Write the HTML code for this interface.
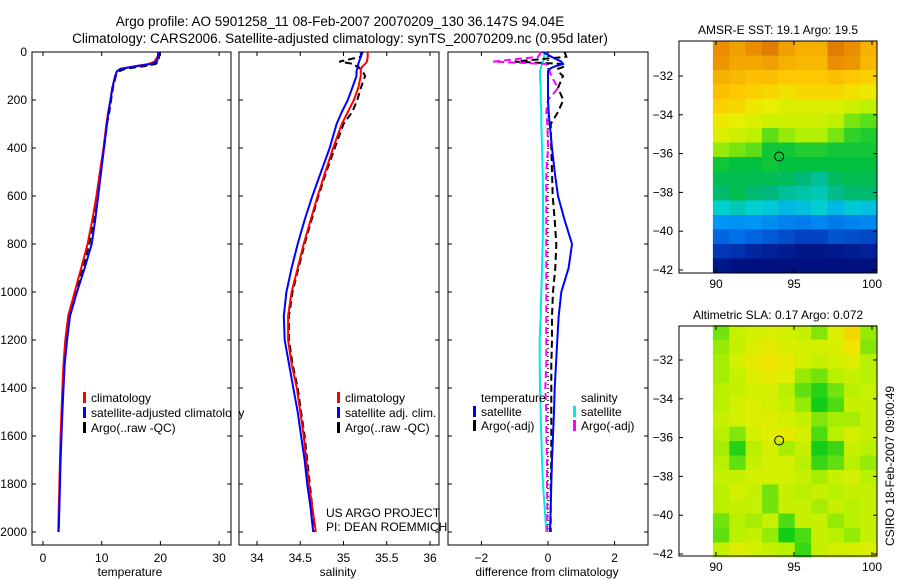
<!DOCTYPE html>
<html><head><meta charset="utf-8"><style>
html,body{margin:0;padding:0;background:#fff;}
svg{display:block;font-family:"Liberation Sans",sans-serif;}
</style></head><body>
<svg id="fig" width="900" height="580" viewBox="0 0 900 580">
<rect width="900" height="580" fill="#fff"/>
<text x="340" y="26" font-size="13.5" text-anchor="middle">Argo profile: AO 5901258_11 08-Feb-2007 20070209_130 36.147S 94.04E</text>
<text x="340" y="43" font-size="13.5" text-anchor="middle">Climatology: CARS2006. Satellite-adjusted climatology: synTS_20070209.nc (0.95d later)</text>
<g id="plots"></g>
</svg>
<script>
// ---- profile data ----
const depths = [0,20,40,50,60,70,80,100,150,200,250,300,400,500,600,700,800,900,1000,1100,1200,1300,1400,1500,1600,1700,1800,1900,2000];
const tempClim = [19.7,19.5,19.0,18.0,15.5,13.2,12.6,12.3,11.8,11.5,11.1,10.8,10.3,9.7,9.1,8.4,7.6,6.5,5.4,4.3,3.8,3.5,3.3,3.15,3.0,2.9,2.8,2.7,2.6];
const tempSat = [19.6,19.6,19.4,18.4,15.7,13.2,12.6,12.3,11.8,11.5,11.15,10.9,10.4,9.9,9.4,8.9,8.3,7.1,5.8,4.6,4.1,3.7,3.5,3.3,3.15,3.0,2.9,2.8,2.65];
const tempArgo = [19.8,19.8,19.6,19.2,17.0,14.0,13.0,12.4,11.9,11.6,11.3,10.9,10.4,9.8,9.2,8.6,7.9,6.8,5.6,4.4,3.9,3.6,3.4,3.2,3.05,2.95,2.85,2.75,2.65];
const salClim = [35.28,35.28,35.27,35.25,35.22,35.2,35.2,35.2,35.17,35.12,35.05,34.98,34.88,34.79,34.7,34.62,34.54,34.47,34.4,34.36,34.36,34.4,34.46,34.5,34.54,34.57,34.6,34.64,34.68];
const salSat = [35.2,35.2,35.18,35.17,35.17,35.16,35.15,35.15,35.1,35.05,34.98,34.92,34.84,34.74,34.64,34.55,34.47,34.4,34.34,34.31,34.32,34.37,34.42,34.47,34.51,34.55,34.58,34.62,34.65];
const salArgo = [35.22,35.2,34.95,35.12,35.15,35.2,35.22,35.25,35.2,35.16,35.1,35.0,34.9,34.8,34.71,34.63,34.55,34.48,34.41,34.37,34.37,34.41,34.47,34.51,34.55,34.58,34.61,34.64,34.67];
const tDiffSat = [-0.15,0.1,0.4,0.45,0.2,0.05,0,0,0,0,0.02,0.05,0.12,0.2,0.3,0.5,0.72,0.62,0.4,0.32,0.28,0.24,0.2,0.18,0.15,0.12,0.1,0.08,0.06];
const tDiffArgo = [0.5,0.55,-1.0,0.5,0.5,0.3,0.3,0.45,0.3,0.46,0.3,0.08,0.1,0.12,0.14,0.2,0.25,0.22,0.15,0.12,0.12,0.1,0.1,0.1,0.1,0.1,0.08,0.08,0.08];
const sDiffSat = [-0.1,-0.12,-0.15,-0.18,-0.2,-0.22,-0.24,-0.24,-0.22,-0.22,-0.2,-0.2,-0.18,-0.16,-0.15,-0.15,-0.16,-0.18,-0.2,-0.22,-0.25,-0.25,-0.24,-0.22,-0.2,-0.18,-0.15,-0.1,-0.05];
const sDiffArgo = [-0.2,-0.3,-1.65,-0.05,0.0,0.02,0.05,0.1,0.3,0.0,-0.05,-0.02,0.0,-0.05,-0.05,-0.05,-0.05,-0.05,-0.05,-0.05,-0.05,-0.05,-0.08,-0.05,-0.05,-0.03,-0.03,-0.02,-0.02];
const depthTicks = [0,200,400,600,800,1000,1200,1400,1600,1800,2000];
const tempTicks = [0,10,20,30];
const salTicks = [34,34.5,35,35.5,36];
const diffTicks = [-2,0,2];
// ---- map data (10 lon cols x 16 lat rows, top to bottom) ----
const sstGrid = [
[21.0,20.8,21.0,21.2,20.8,20.6,20.6,21.2,21.0,20.6],
[20.9,20.7,20.7,20.8,20.6,20.5,20.5,21.0,20.9,20.5],
[20.6,20.5,20.4,20.4,20.3,20.3,20.3,20.4,20.3,20.2],
[20.4,20.3,20.2,20.1,20.0,20.1,20.1,20.1,20.0,19.9],
[20.2,20.1,19.9,19.8,19.7,19.7,19.7,19.7,19.6,19.5],
[19.9,19.8,19.7,19.6,19.6,19.6,19.6,19.5,19.2,19.1],
[19.7,19.6,19.5,19.1,19.3,19.4,19.4,19.2,18.9,18.8],
[19.3,19.2,19.1,18.7,18.7,18.8,18.8,18.7,18.7,18.7],
[18.7,18.6,18.6,18.7,18.6,18.6,18.6,18.6,18.6,18.6],
[18.5,18.5,18.5,18.5,18.4,18.2,18.0,18.4,18.5,18.5],
[18.3,18.5,18.3,18.2,18.0,17.9,17.8,18.1,18.3,18.3],
[17.6,17.8,17.6,17.5,17.3,17.4,17.6,17.3,17.5,17.4],
[16.8,16.7,16.8,16.6,16.4,16.3,16.5,16.2,16.4,16.5],
[15.8,16.0,15.8,15.6,15.4,15.2,15.2,15.5,15.4,15.3],
[15.0,14.8,14.5,14.3,14.2,14.0,14.0,14.1,14.2,14.3],
[14.0,13.8,13.7,13.6,13.6,13.6,13.6,13.6,13.6,13.6]];
const slaGrid = [
[0.12,0.22,0.24,0.25,0.24,0.22,0.14,0.26,0.32,0.16],
[0.16,0.22,0.26,0.28,0.25,0.24,0.24,0.25,0.30,0.14],
[0.18,0.24,0.28,0.30,0.28,0.24,0.22,0.24,0.26,0.20],
[0.18,0.22,0.26,0.28,0.26,0.16,0.12,0.20,0.22,0.20],
[0.20,0.22,0.24,0.24,0.20,0.10,0.04,0.12,0.20,0.22],
[0.20,0.24,0.26,0.24,0.22,0.16,0.02,0.08,0.22,0.22],
[0.22,0.24,0.26,0.26,0.24,0.22,0.14,0.18,0.18,0.22],
[0.20,0.14,0.24,0.26,0.28,0.24,0.08,0.20,0.24,0.22],
[0.18,0.04,0.20,0.24,0.18,0.22,0.02,0.06,0.22,0.20],
[0.20,0.10,0.22,0.24,0.24,0.20,0.06,0.10,0.20,0.16],
[0.22,0.22,0.24,0.24,0.24,0.22,0.18,0.22,0.24,0.20],
[0.20,0.24,0.22,0.12,0.22,0.20,0.22,0.20,0.22,0.22],
[0.20,0.22,0.22,0.12,0.22,0.22,0.18,0.22,0.20,0.22],
[0.12,0.20,0.18,0.22,0.08,0.22,0.22,0.16,0.20,0.22],
[0.10,0.20,0.22,0.16,0.02,0.08,0.22,0.20,0.16,0.22],
[0.22,0.26,0.24,0.22,0.20,0.06,0.22,0.24,0.24,0.26]];
const argoLon = [94.05];
const argoLat = [-36.15];
const lonTicks = [90,95,100];
const latTicks = [-32,-34,-36,-38,-40,-42];

const NS='http://www.w3.org/2000/svg';
const root=document.getElementById('plots');
function mk(tag,attrs,parent){const e=document.createElementNS(NS,tag);for(const k in attrs)e.setAttribute(k,attrs[k]);(parent||root).appendChild(e);return e;}
function txt(x,y,s,attrs,parent){const e=mk('text',Object.assign({x:x,y:y,'font-size':12},attrs||{}),parent);e.textContent=s;return e;}

const Y0=52, DEPTH_PX=0.24;
function yD(d){return Y0+d*DEPTH_PX;}

const panels=[
 {name:'temperature',x0:32,x1:231,v0:0,px0:43,scale:5.87,ticks:tempTicks,label:'temperature',lblx:130},
 {name:'salinity',x0:239,x1:439,v0:34,px0:257,scale:86.5,ticks:salTicks,label:'salinity',lblx:338},
 {name:'difference',x0:448,x1:648,v0:0,px0:548,scale:33.3,ticks:diffTicks,label:'difference from climatology',lblx:547}
];
const TOP=52,BOT=545;
panels.forEach((p,i)=>{
  const g=mk('g',{});
  
  
  const fx=v=>p.px0+(v-p.v0)*p.scale;
  p.fx=fx; p.g=g;
  const fr=mk('rect',{x:p.x0,y:TOP,width:p.x1-p.x0,height:BOT-TOP,fill:'none',stroke:'#000','stroke-width':1},g);
  
  
  depthTicks.forEach(d=>{
    const y=yD(d);
    mk('line',{x1:p.x0,x2:p.x0+4,y1:y,y2:y,stroke:'#000'},g);
    mk('line',{x1:p.x1-4,x2:p.x1,y1:y,y2:y,stroke:'#000'},g);
    if(i===0){const t=txt(p.x0-5,y+4,String(d),{'text-anchor':'end'},g);
      
      }
  });
  p.ticks.forEach(v=>{
    const x=fx(v);
    mk('line',{x1:x,x2:x,y1:BOT,y2:BOT-4,stroke:'#000'},g);
    mk('line',{x1:x,x2:x,y1:TOP,y2:TOP+4,stroke:'#000'},g);
    const t=txt(x,BOT+17,String(v).replace('-','\u2212'),{'text-anchor':'middle'},g);
    
    
  });
  const l=txt(p.lblx,BOT+31,p.label,{'text-anchor':'middle'},g);
  
  
});

function line(p,vals,color,name,dash,w){
  const pts=vals.map((v,k)=>p.fx(v).toFixed(1)+','+yD(depths[k]).toFixed(1)).join(' ');
  const e=mk('polyline',{points:pts,fill:'none',stroke:color,'stroke-width':w||2,'stroke-dasharray':dash||'none'},p.g);
  
  
}
const [P1,P2,P3]=panels;
line(P1,tempArgo,'#000','argo-temperature-line','7,4');
line(P1,tempClim,'#f00','climatology-temperature-line');
line(P1,tempSat,'#00f','satellite-temperature-line');
line(P2,salArgo,'#000','argo-salinity-line','7,4');
line(P2,salClim,'#f00','climatology-salinity-line');
line(P2,salSat,'#00f','satellite-salinity-line');
const zl=mk('line',{x1:P3.fx(0),x2:P3.fx(0),y1:yD(0),y2:yD(2000),stroke:'#000','stroke-width':1.5,'stroke-dasharray':'1,3'},P3.g);


line(P3,sDiffSat,'#00e8e8','salinity-satellite-diff-line');
line(P3,tDiffArgo,'#000','temperature-argo-diff-line','7,4');
line(P3,sDiffArgo,'#f0f','salinity-argo-diff-line','7,4');
line(P3,tDiffSat,'#00f','temperature-satellite-diff-line');

function legend(parent,x,y,color,label,name){
  const g=mk('g',{},parent);
  
  
  mk('rect',{x:x,y:y-10,width:3,height:11,fill:color},g);
  txt(x+8,y,label,{},g);
}
legend(P1.g,83,402,'#f00','climatology','legend-climatology');
legend(P1.g,83,417,'#00f','satellite-adjusted climatology','legend-satellite-adjusted');
legend(P1.g,83,432,'#000','Argo(..raw -QC)','legend-argo');
const cover=mk('rect',{x:P1.x1+0.5,y:395,width:7.5,height:30,fill:'#fff'},P1.g);
legend(P2.g,337,402,'#f00','climatology','legend-climatology');
legend(P2.g,337,417,'#00f','satellite adj. clim.','legend-satellite-adj');
legend(P2.g,337,432,'#000','Argo(..raw -QC)','legend-argo');
const t1=txt(326,517,'US ARGO PROJECT',{},P2.g);


const t2=txt(326,531,'PI: DEAN ROEMMICH',{},P2.g);


const lt=txt(481,402,'temperature',{},P3.g);


const ls=txt(581,402,'salinity',{},P3.g);


legend(P3.g,473,416,'#00f','satellite','legend-temp-satellite');
legend(P3.g,473,430,'#000','Argo(-adj)','legend-temp-argo');
legend(P3.g,573,416,'#00e8e8','satellite','legend-sal-satellite');
legend(P3.g,573,430,'#f0f','Argo(-adj)','legend-sal-argo');

// ---- maps ----
function lerpColor(stops,v){
  if(v<=stops[0][0])return stops[0][1];
  for(let i=1;i<stops.length;i++){if(v<=stops[i][0]){const [a,ca]=stops[i-1],[b,cb]=stops[i];const t=(v-a)/(b-a);
    const pa=[1,3,5].map(k=>parseInt(ca.substr(k,2),16)),pb=[1,3,5].map(k=>parseInt(cb.substr(k,2),16));
    return 'rgb('+pa.map((c,j)=>Math.round(c+(pb[j]-c)*t)).join(',')+')';}}
  return stops[stops.length-1][1];
}
const sstStops=[[13.8,'#00107f'],[15,'#0038b8'],[16,'#0070e8'],[17,'#00a0f8'],[17.6,'#00d0d0'],[18.2,'#00b87c'],[18.6,'#00c040'],[19.0,'#40d820'],[19.4,'#b0f000'],[19.8,'#e8f000'],[20.3,'#ffc800'],[20.8,'#f0a000'],[21.2,'#e07c00']];
const slaStops=[[0.0,'#00c818'],[0.1,'#60e010'],[0.2,'#b8f000'],[0.25,'#d8f000'],[0.3,'#f0e400'],[0.35,'#f8c400']];
const maps=[
 {name:'sst-map',title:'AMSR-E SST: 19.1 Argo: 19.5',grid:sstGrid,stops:sstStops,top:41,bot:273,latRef:76},
 {name:'sla-map',title:'Altimetric SLA: 0.17 Argo: 0.072',grid:slaGrid,stops:slaStops,top:326,bot:556,latRef:360}
];
const MX0=679,MX1=877,LONREF=716,LONPX=15.6,LATPX=19.4;
maps.forEach(m=>{
  const g=mk('g',{});
  
  
  const fxl=lon=>LONREF+(lon-90)*LONPX;
  const fyl=lat=>m.latRef+(-32-lat)*LATPX;
  const lon0=89.8,lon1=100.3,lat0=-30.2,lat1=-42.15;
  const rows=m.grid.length,cols=m.grid[0].length;
  const dlon=(lon1-lon0)/cols,dlat=(lat0-lat1)/rows;
  m.grid.forEach((row,r)=>row.forEach((v,c)=>{
    const x=fxl(lon0+c*dlon),x2=fxl(lon0+(c+1)*dlon);
    const y=fyl(lat0-r*dlat),y2=fyl(lat0-(r+1)*dlat);
    const cell=mk('rect',{x:x.toFixed(2),y:y.toFixed(2),width:(x2-x+0.5).toFixed(2),height:(y2-y+0.5).toFixed(2),fill:lerpColor(m.stops,v)},g);
    
    
  }));
  const fr=mk('rect',{x:MX0,y:m.top,width:MX1-MX0,height:m.bot-m.top,fill:'none',stroke:'#000'},g);
  
  
  const tt=txt((MX0+MX1)/2,m.top-7,m.title,{'text-anchor':'middle'},g);
  
  
  lonTicks.forEach(lon=>{const x=fxl(lon);
    mk('line',{x1:x,x2:x,y1:m.bot,y2:m.bot-4,stroke:'#000'},g);
    mk('line',{x1:x,x2:x,y1:m.top,y2:m.top+4,stroke:'#000'},g);
    const t=txt(x,m.bot+15,String(lon),{'text-anchor':'middle'},g);
    
    });
  latTicks.forEach(lat=>{const y=fyl(lat);
    mk('line',{x1:MX0,x2:MX0+4,y1:y,y2:y,stroke:'#000'},g);
    mk('line',{x1:MX1-4,x2:MX1,y1:y,y2:y,stroke:'#000'},g);
    const t=txt(MX0-6,y+4,String(lat).replace('-','\u2212'),{'text-anchor':'end'},g);
    
    });
  const c=mk('circle',{cx:fxl(argoLon[0]),cy:fyl(argoLat[0]),r:4.5,fill:'none',stroke:'#000','stroke-width':1},g);
  
  
});
const stamp=txt(0,0,'CSIRO 18-Feb-2007 09:00:49',{'transform':'translate(894,546) rotate(-90)'});


</script>
</body></html>
